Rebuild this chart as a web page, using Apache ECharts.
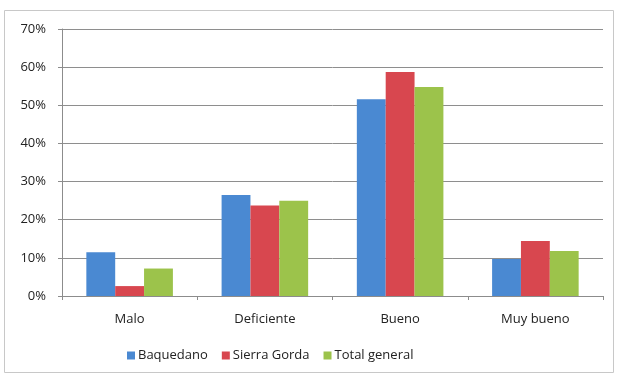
<!DOCTYPE html>
<html>
<head>
<meta charset="utf-8">
<script src="https://cdn.jsdelivr.net/npm/echarts@6/dist/echarts.min.js"></script>
<style>
  html, body { margin: 0; padding: 0; background: #fff; }
  #chart { width: 617px; height: 376px; }
</style>
</head>
<body>
<div id="chart"></div>
<script>
// Rating categories and share of responses per locality (percent)
const categories = ['Malo', 'Deficiente', 'Bueno', 'Muy bueno'];
const baquedano = [11.5, 26.5, 51.6, 9.7];
const sierraGorda = [2.6, 23.7, 58.7, 14.4];
const totalGeneral = [7.2, 25.0, 54.8, 11.8];
const seriesNames = ['Baquedano', 'Sierra Gorda', 'Total general'];
const yTicks = { min: 0, max: 70, interval: 10 };

const colors = ['#4a89d2', '#d8474f', '#9cc34b'];
const font = '"Open Sans", "Liberation Sans", sans-serif';

const chart = echarts.init(document.getElementById('chart'));
chart.setOption({
  animation: false,
  color: colors,
  textStyle: { fontFamily: font },
  graphic: [{
    type: 'rect',
    shape: { x: 4.5, y: 10.5, width: 609, height: 362 },
    style: { fill: 'none', stroke: '#c8c8c8', lineWidth: 1 },
    silent: true
  }],
  grid: { left: 62, right: 14, top: 29, bottom: 80 },
  legend: {
    bottom: 9,
    left: 122,
    itemWidth: 8,
    itemHeight: 8,
    itemGap: 14,
    icon: 'rect',
    textStyle: { fontSize: 13, color: '#222', fontFamily: font, padding: [0, 0, 0, -2] },
    data: seriesNames
  },
  xAxis: {
    type: 'category',
    data: categories,
    axisLine: { lineStyle: { color: '#8c8c8c' } },
    axisTick: { show: true, length: 4, lineStyle: { color: '#8c8c8c' } },
    axisLabel: { fontSize: 13, color: '#222', margin: 17 }
  },
  yAxis: {
    type: 'value',
    min: yTicks.min,
    max: yTicks.max,
    interval: yTicks.interval,
    axisLine: { show: true, lineStyle: { color: '#8c8c8c' } },
    axisTick: { show: true, length: 4, lineStyle: { color: '#8c8c8c' } },
    axisLabel: { fontSize: 13, color: '#222', margin: 16, formatter: '{value}%' },
    splitLine: { lineStyle: { color: '#8e8e8e' } }
  },
  series: [
    { name: seriesNames[0], type: 'bar', data: baquedano, barGap: '0%', barCategoryGap: '36%' },
    { name: seriesNames[1], type: 'bar', data: sierraGorda, barGap: '0%', barCategoryGap: '36%' },
    { name: seriesNames[2], type: 'bar', data: totalGeneral, barGap: '0%', barCategoryGap: '36%' }
  ]
});
</script>
</body>
</html>
